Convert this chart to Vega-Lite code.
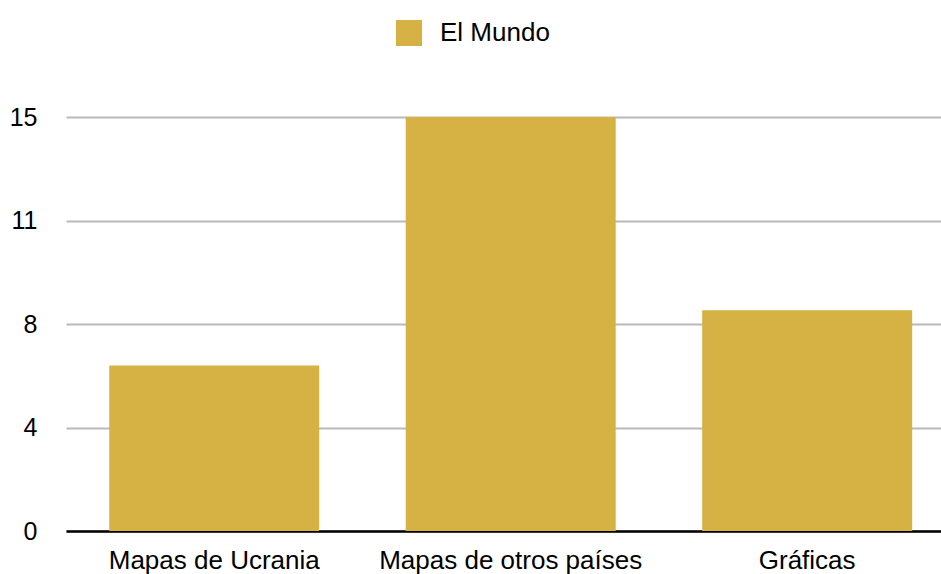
{
  "$schema": "https://vega.github.io/schema/vega-lite/v6.json",
  "width": 875,
  "height": 414,
  "autosize": {"type": "none"},
  "padding": {"left": 66, "top": 117, "right": 0, "bottom": 43},
  "background": "white",
  "data": {
    "values": [
      {"categoria": "Mapas de Ucrania", "serie": "El Mundo", "valor": 6},
      {"categoria": "Mapas de otros países", "serie": "El Mundo", "valor": 15},
      {"categoria": "Gráficas", "serie": "El Mundo", "valor": 8}
    ]
  },
  "config": {
    "view": {"stroke": null},
    "font": "Liberation Sans"
  },
  "mark": {"type": "bar", "clip": false},
  "encoding": {
    "x": {
      "field": "categoria",
      "type": "nominal",
      "sort": null,
      "scale": {"paddingInner": 0.2917, "paddingOuter": 0.1215, "align": 0.6},
      "axis": {
        "title": null,
        "labelAngle": 0,
        "labelFont": "Liberation Sans",
        "labelFontSize": 26,
        "labelLimit": 0,
        "labelColor": "#000000",
        "labelBaseline": "alphabetic",
        "labelPadding": 37,
        "ticks": false,
        "domain": true,
        "domainColor": "#000000",
        "domainWidth": 2.5,
        "grid": false
      }
    },
    "y": {
      "field": "valor",
      "type": "quantitative",
      "scale": {"domain": [0, 15], "nice": false},
      "axis": {
        "title": null,
        "values": [0, 3.75, 7.5, 11.25, 15],
        "format": "d",
        "labelFont": "Liberation Sans",
        "labelFontSize": 25,
        "labelColor": "#000000",
        "labelPadding": 29,
        "ticks": false,
        "domain": false,
        "grid": true,
        "gridColor": "#b9b9b9",
        "gridWidth": 2
      }
    },
    "fill": {
      "field": "serie",
      "type": "nominal",
      "scale": {"range": ["#d6b244"]},
      "legend": {
        "title": null,
        "orient": "none",
        "legendX": 330,
        "legendY": -97,
        "padding": 0,
        "symbolType": "square",
        "symbolSize": 676,
        "symbolStrokeWidth": 0,
        "symbolOpacity": 1,
        "labelFont": "Liberation Sans",
        "labelFontSize": 26,
        "labelColor": "#000000",
        "labelOffset": 18
      }
    }
  }
}
